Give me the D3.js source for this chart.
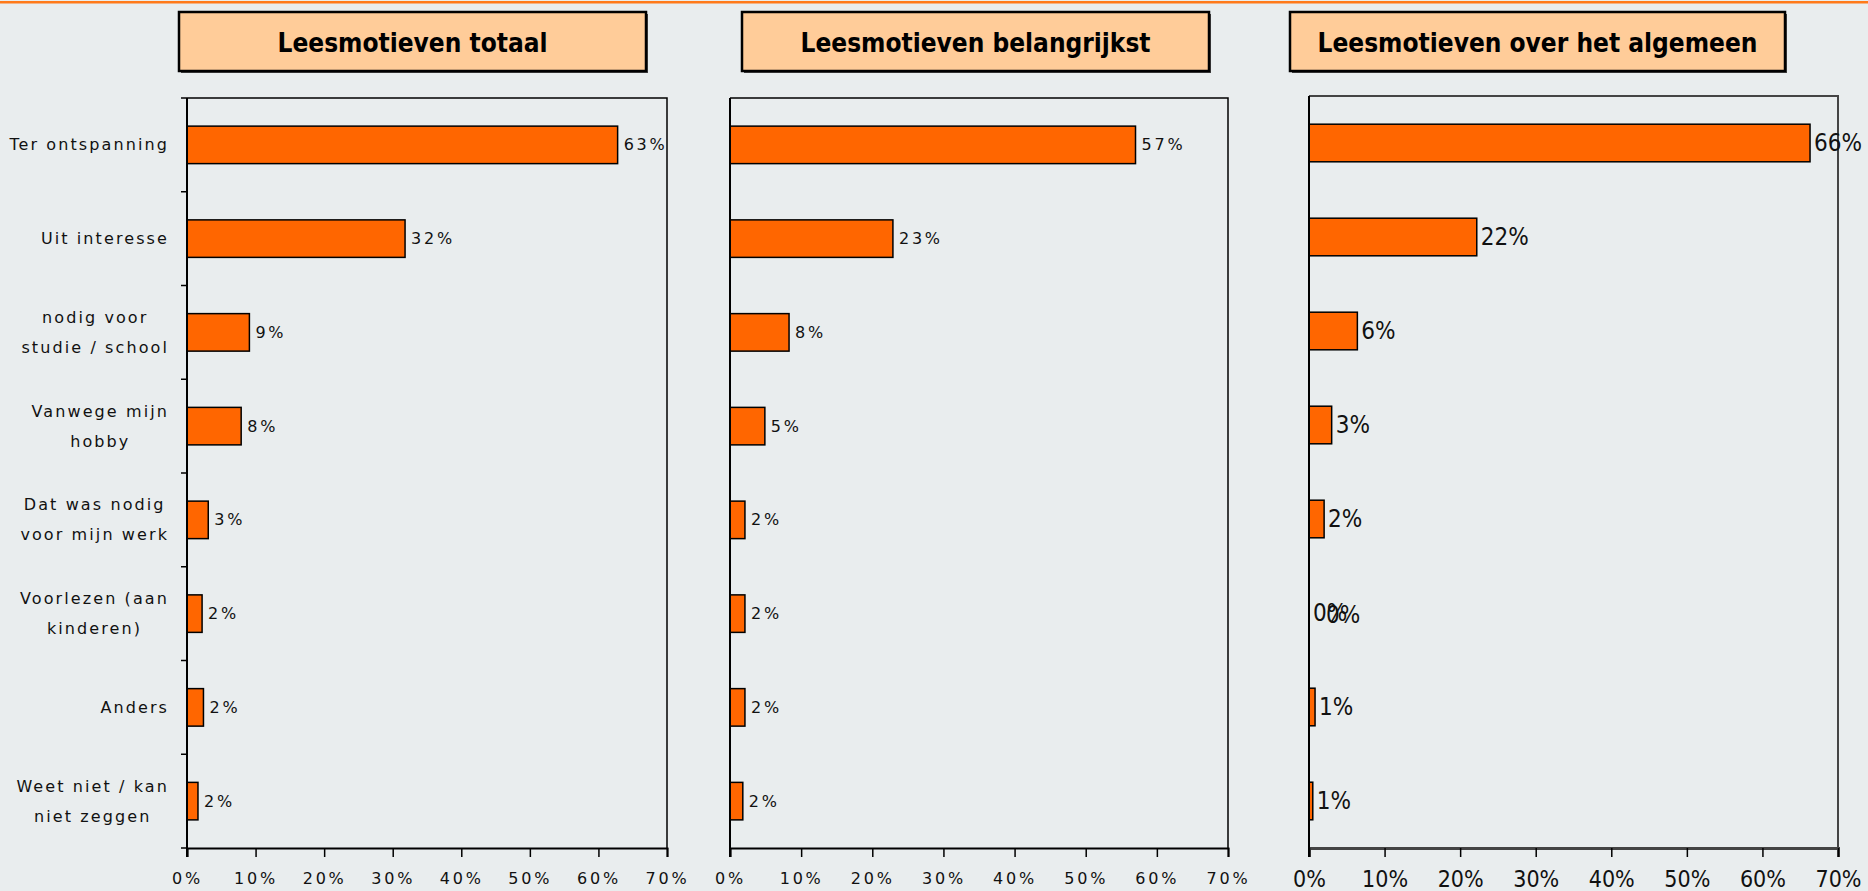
<!DOCTYPE html>
<html>
<head>
<meta charset="utf-8">
<script src="https://cdn.jsdelivr.net/npm/d3@7"></script>
<style>
  html, body { margin: 0; padding: 0; background: #e9edee; }
  svg { display: block; }
</style>
</head>
<body>
<svg id="chart"></svg>
<script>
// categories (line breaks as in the original labels)
const categories = [
  "Ter ontspanning",
  "Uit interesse",
  "nodig voor\nstudie / school",
  "Vanwege mijn\nhobby",
  "Dat was nodig\nvoor mijn werk",
  "Voorlezen (aan\nkinderen)",
  "Anders",
  "Weet niet / kan\nniet zeggen"
];

const titles = ["Leesmotieven totaal", "Leesmotieven belangrijkst", "Leesmotieven over het algemeen"];

// percentages
const totaal = [62.8, 31.8, 9.1, 7.9, 3.1, 2.2, 2.4, 1.6];
const belangrijkst = [57.0, 22.9, 8.3, 4.9, 2.1, 2.1, 2.1, 1.8];
const algemeen = [66.3, 22.2, 6.4, 3.0, 2.0, 0.0, 0.8, 0.5];

const xTicks = [0, 10, 20, 30, 40, 50, 60, 70];

const width = 1868, height = 891;

const svg = d3.select("#chart")
  .attr("width", width)
  .attr("height", height);

svg.append("rect")
  .attr("width", width).attr("height", height)
  .attr("fill", "#e9edee");

// orange rule at the very top
svg.append("rect")
  .attr("x", 0).attr("y", 1)
  .attr("width", width).attr("height", 2.5)
  .attr("fill", "#ff7a1a");

const spaced = { family: "'DejaVu Sans', Verdana, sans-serif", size: 16, spacing: 2.8, tick: 16, tickSpacing: 2.8, frame: "#000" };
const plain = { family: "'DejaVu Sans Condensed', 'DejaVu Sans', sans-serif", size: 24, spacing: 0, tick: 23, tickSpacing: 0, frame: "#444" };

const panels = [
  { values: totaal, left: 187, right: 667, top: 98, bottom: 848, box: [179, 12, 467, 59], font: spaced, catTicks: true, labels: true },
  { values: belangrijkst, left: 730, right: 1228, top: 98, bottom: 848, box: [742, 12, 467, 59], font: spaced, catTicks: false, labels: false },
  { values: algemeen, left: 1309, right: 1838, top: 96, bottom: 848, box: [1290, 12, 495, 59], font: plain, catTicks: false, labels: false }
];

panels.forEach((p, i) => {
  const g = svg.append("g");

  // title box with a small shadow
  const [bx, by, bw, bh] = p.box;
  g.append("rect")
    .attr("x", bx + 2).attr("y", by + 2)
    .attr("width", bw).attr("height", bh)
    .attr("fill", "#444");
  g.append("rect")
    .attr("x", bx).attr("y", by)
    .attr("width", bw).attr("height", bh)
    .attr("fill", "#ffcc99")
    .attr("stroke", "#000")
    .attr("stroke-width", 2.5);
  g.append("text")
    .attr("x", bx + bw / 2).attr("y", by + bh / 2 + 1)
    .attr("text-anchor", "middle")
    .attr("dominant-baseline", "central")
    .attr("font-family", "'DejaVu Sans Condensed', 'DejaVu Sans', sans-serif")
    .attr("font-stretch", "condensed")
    .attr("font-weight", "bold")
    .attr("font-size", 26)
    .text(titles[i]);

  const x = d3.scaleLinear().domain([0, 70]).range([p.left, p.right]);
  const y = d3.scaleBand().domain(categories).range([p.top, p.bottom]).paddingInner(0.6).paddingOuter(0.3);

  // frame: top and right
  g.append("path")
    .attr("d", `M${p.left},${p.top}H${p.right}V${p.bottom}`)
    .attr("fill", "none")
    .attr("stroke", p.font.frame)
    .attr("stroke-width", p.font === plain ? 2 : 1.5);

  // bars
  g.selectAll(".bar")
    .data(p.values)
    .join("rect")
    .attr("class", "bar")
    .attr("x", x(0))
    .attr("y", (d, j) => y(categories[j]))
    .attr("width", d => x(d) - x(0))
    .attr("height", y.bandwidth())
    .attr("fill", "#ff6600")
    .attr("stroke", d => d > 0 ? "#000" : "none")
    .attr("stroke-width", 1.5);

  // value labels
  g.selectAll(".val")
    .data(p.values)
    .join("text")
    .attr("class", "val")
    .attr("x", d => x(d) + (p.font === plain ? 4 : 6))
    .attr("y", (d, j) => y(categories[j]) + y.bandwidth() / 2)
    .attr("dominant-baseline", "central")
    .attr("font-family", p.font.family)
    .attr("font-size", p.font.size)
    .attr("letter-spacing", p.font.spacing)
    .attr("fill", "#111")
    .text(d => Math.round(d) + "%");

  // the zero label in the last panel is drawn twice in the original
  if (p.font === plain) {
    p.values.forEach((d, j) => {
      if (d === 0) {
        g.append("text")
          .attr("x", x(d) + 17)
          .attr("y", y(categories[j]) + y.bandwidth() / 2 + 2)
          .attr("dominant-baseline", "central")
          .attr("font-family", p.font.family)
          .attr("font-size", p.font.size)
          .attr("fill", "#111")
          .text("0%");
      }
    });
  }

  // x axis
  const xAxis = g.append("g")
    .attr("transform", `translate(0,${p.bottom})`)
    .call(d3.axisBottom(x).tickValues(xTicks).tickSize(9).tickPadding(p.font === plain ? 14 : 16).tickFormat(d => d + "%"));
  xAxis.select(".domain").attr("stroke", p.font.frame).attr("stroke-width", p.font === plain ? 3 : 2);
  xAxis.selectAll(".tick line").attr("stroke", "#000").attr("stroke-width", 1.5);
  xAxis.selectAll("text")
    .attr("font-family", p.font.family)
    .attr("font-size", p.font.tick)
    .attr("letter-spacing", p.font.tickSpacing)
    .attr("fill", "#111");

  // y axis line and category ticks
  g.append("line")
    .attr("x1", p.left).attr("x2", p.left)
    .attr("y1", p.top).attr("y2", p.bottom + 9)
    .attr("stroke", "#000").attr("stroke-width", 2);

  if (p.catTicks) {
    const bounds = d3.range(categories.length + 1).map(k => p.top + k * y.step());
    g.selectAll(".ctick")
      .data(bounds)
      .join("line")
      .attr("x1", p.left - 6).attr("x2", p.left)
      .attr("y1", d => d).attr("y2", d => d)
      .attr("stroke", "#000").attr("stroke-width", 1.5);
  }

  if (p.labels) {
    const rightEdge = 169;
    categories.forEach(c => {
      const lines = c.split("\n");
      const cy = y(c) + y.bandwidth() / 2;
      const lh = 30;
      const t = g.append("g");
      const texts = lines.map((ln, k) => t.append("text")
        .attr("y", cy + (k - (lines.length - 1) / 2) * lh)
        .attr("dominant-baseline", "central")
        .attr("text-anchor", "middle")
        .attr("font-family", spaced.family)
        .attr("font-size", 16)
        .attr("letter-spacing", 2.1)
        .attr("fill", "#111")
        .text(ln));
      const maxW = d3.max(texts, s => s.node().getComputedTextLength());
      texts.forEach(s => s.attr("x", rightEdge - maxW / 2));
    });
  }
});
</script>
</body>
</html>
